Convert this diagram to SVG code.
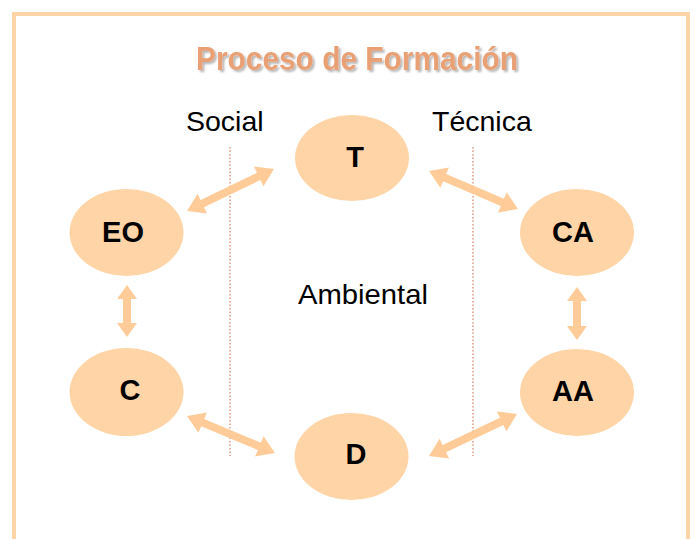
<svg xmlns="http://www.w3.org/2000/svg" width="699" height="539" viewBox="0 0 699 539">
  <defs>
    <filter id="shadow" x="-10%" y="-30%" width="120%" height="160%">
      <feGaussianBlur in="SourceAlpha" stdDeviation="1.2" result="b"/>
      <feOffset dx="2" dy="2" result="o"/>
      <feComponentTransfer in="o" result="s"><feFuncA type="linear" slope="0.3"/></feComponentTransfer>
      <feMerge><feMergeNode in="s"/><feMergeNode in="SourceGraphic"/></feMerge>
    </filter>
  </defs>
  <style>
    .node { fill: #FFD5A8; }
    .lbl { font-family: "Liberation Sans", Arial, sans-serif; font-weight: bold; font-size: 29px; fill: #000; text-anchor: middle; }
    .txt { font-family: "Liberation Sans", Arial, sans-serif; font-size: 28.5px; fill: #000; }
    .arrow { fill: #FFCC99; }
    .div { stroke: #E39A80; stroke-width: 1.5; stroke-dasharray: 1.5 2; fill: none; }
  </style>
  <rect width="699" height="539" fill="#FFFFFF"/>
  <rect x="14" y="14" width="674" height="527" fill="none" stroke="#FFD5A8" stroke-width="4"/>
  <text x="196" y="70" font-family="Liberation Sans, Arial, sans-serif" font-weight="bold" font-size="33" fill="#E9A074" textLength="322" lengthAdjust="spacingAndGlyphs" filter="url(#shadow)">Proceso de Formación</text>
  <g id="labels">
    <text class="txt" x="186" y="131">Social</text>
    <text class="txt" x="432" y="131">Técnica</text>
    <text class="txt" x="298" y="304" textLength="130" lengthAdjust="spacingAndGlyphs">Ambiental</text>
  </g>
  <g id="dividers">
    <line class="div" x1="230" y1="147" x2="230" y2="456"/>
    <line class="div" x1="473" y1="147" x2="473" y2="456"/>
  </g>
  <g id="connectors">
    <polygon class="arrow" points="187,211 207.09,213.52 204.05,207.21 260.43,179.99 263.47,186.30 274,169 253.91,166.48 256.95,172.79 200.57,200.01 197.53,193.70"/>
    <polygon class="arrow" points="429,171 440.31,187.78 443.06,181.35 500.80,206.01 498.05,212.44 518,209 506.69,192.22 503.94,198.65 446.20,173.99 448.95,167.56"/>
    <polygon class="arrow" points="187,416 198.41,432.73 201.12,426.28 257.78,450.10 255.07,456.55 275,453 263.59,436.27 260.88,442.72 204.22,418.90 206.93,412.45"/>
    <polygon class="arrow" points="429,456 449.08,458.61 446.06,452.29 503.38,424.93 506.40,431.25 517,414 496.92,411.39 499.94,417.71 442.62,445.07 439.60,438.75"/>
    <polygon class="arrow" points="127,285 137,299 131,299 131,323 137,323 127,337 117,323 123,323 123,299 117,299"/>
    <polygon class="arrow" points="577,287 587,301 581,301 581,326 587,326 577,340 567,326 573,326 573,301 567,301"/>
  </g>
  <g id="node-T">
    <ellipse class="node" cx="352" cy="158" rx="57" ry="43"/>
    <text class="lbl" x="355" y="167">T</text>
  </g>
  <g id="node-EO">
    <ellipse class="node" cx="126.5" cy="232.5" rx="57" ry="43.5"/>
    <text class="lbl" x="123" y="242">EO</text>
  </g>
  <g id="node-CA">
    <ellipse class="node" cx="577" cy="232.5" rx="57" ry="43.5"/>
    <text class="lbl" x="573" y="242">CA</text>
  </g>
  <g id="node-C">
    <ellipse class="node" cx="126.5" cy="392" rx="57" ry="44"/>
    <text class="lbl" x="130" y="400">C</text>
  </g>
  <g id="node-AA">
    <ellipse class="node" cx="577" cy="392.5" rx="57" ry="43.5"/>
    <text class="lbl" x="573" y="401">AA</text>
  </g>
  <g id="node-D">
    <ellipse class="node" cx="351.5" cy="456.5" rx="57" ry="43.5"/>
    <text class="lbl" x="356" y="464">D</text>
  </g>
</svg>
